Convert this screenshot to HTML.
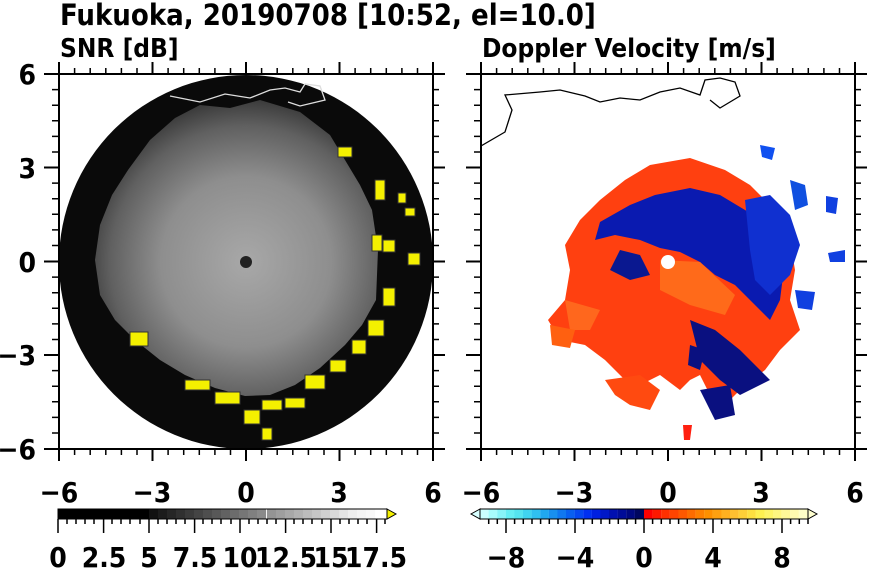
<!DOCTYPE html>
<html><head><meta charset="utf-8"><style>
body{margin:0;background:#fff;}
svg{display:block;font-family:"DejaVu Sans Condensed","DejaVu Sans","Liberation Sans",sans-serif;font-weight:bold;font-stretch:condensed;}
</style></head><body>
<svg width="870" height="570" viewBox="0 0 870 570" xmlns="http://www.w3.org/2000/svg">
<defs>
<radialGradient id="gg" cx="246" cy="262" r="170" gradientUnits="userSpaceOnUse">
<stop offset="0" stop-color="#a8a8a8"/><stop offset="0.5" stop-color="#8e8e8e"/><stop offset="0.8" stop-color="#606060"/><stop offset="1" stop-color="#303030"/>
</radialGradient>
<clipPath id="c1"><rect x="59" y="74" width="374" height="375"/></clipPath>
<clipPath id="c2"><rect x="481" y="74" width="374" height="375"/></clipPath>
</defs>
<text x="60" y="25" font-size="29">Fukuoka, 20190708 [10:52, el=10.0]</text>
<text x="60" y="57" font-size="26">SNR [dB]</text>
<text x="482" y="57" font-size="26">Doppler Velocity [m/s]</text>

<g clip-path="url(#c1)">
<circle cx="246" cy="262" r="187" fill="#0a0a0a"/>
<path d="M175,118 L200,105 230,108 260,100 300,112 330,135 345,160 360,185 372,210 378,250 376,300 362,325 345,345 320,368 295,385 270,395 245,396 215,388 185,375 160,360 135,340 115,320 100,295 95,260 100,225 112,195 128,170 150,140 Z" fill="url(#gg)"/>
<circle cx="246" cy="262" r="6" fill="#222"/>
<g fill="#f4f000" stroke="#333" stroke-width="1">
<rect x="338" y="147" width="14" height="10"/><rect x="375" y="180" width="10" height="20"/><rect x="398" y="193" width="8" height="10"/><rect x="405" y="208" width="10" height="8"/>
<rect x="372" y="235" width="10" height="16"/><rect x="383" y="240" width="12" height="12"/><rect x="408" y="253" width="12" height="12"/>
<rect x="383" y="288" width="12" height="18"/><rect x="368" y="320" width="16" height="16"/><rect x="352" y="340" width="14" height="14"/>
<rect x="330" y="360" width="16" height="12"/><rect x="305" y="375" width="20" height="14"/><rect x="285" y="398" width="20" height="10"/>
<rect x="262" y="400" width="20" height="10"/><rect x="244" y="410" width="16" height="14"/><rect x="262" y="428" width="10" height="12"/>
<rect x="215" y="392" width="25" height="12"/><rect x="185" y="380" width="25" height="10"/><rect x="130" y="332" width="18" height="14"/>
</g>
<path d="M170,96 L200,102 225,94 250,98 270,90 285,88 300,92 305,84 320,86 325,100 300,106 288,102" fill="none" stroke="#ddd" stroke-width="1.3"/>
</g>
<rect x="59" y="74" width="374" height="375" fill="none" stroke="#000" stroke-width="2"/>

<g clip-path="url(#c2)">
<path d="M481,146 L505,132 512,110 505,95 540,92 560,90 585,96 600,102 620,98 640,100 660,92 680,88 700,95 705,80 720,78 735,82 740,96 720,108 710,100" fill="none" stroke="#000" stroke-width="1.3"/>
<path d="M650,165 L690,158 725,170 750,185 775,210 790,240 795,270 790,300 800,330 780,350 765,370 745,385 730,400 710,395 700,375 690,380 680,390 660,375 640,385 625,380 605,360 585,345 560,340 548,320 565,300 570,270 565,245 580,220 600,200 625,180 Z" fill="#ff4010"/>
<path d="M630,205 L655,195 690,188 720,195 745,210 770,225 785,260 780,300 770,320 750,300 735,285 715,275 700,262 680,252 660,248 640,240 615,235 595,240 600,222 Z" fill="#0a1ab0"/>
<path d="M745,200 L770,195 790,215 800,245 790,275 770,295 755,280 750,250 Z" fill="#1030d0"/>
<path d="M620,250 L640,255 650,275 630,280 610,270 Z" fill="#0a1890"/>
<path d="M690,320 L715,330 740,350 760,370 770,380 740,395 720,380 700,360 Z" fill="#0a1080"/>
<path d="M690,345 L705,350 700,370 688,365 Z" fill="#0a1080"/>
<path d="M660,260 L700,262 735,295 725,315 690,305 660,290 Z" fill="#ff6a1a"/>
<path d="M565,300 L600,310 590,330 570,330 Z" fill="#ff7020" opacity="0.8"/>
<path d="M605,380 L640,375 660,390 650,410 630,405 615,395 Z" fill="#ff4a10"/>
<path d="M700,390 L730,385 735,415 715,420 Z" fill="#0a1080"/>
<path d="M550,325 L575,330 570,348 552,345 Z" fill="#ff6010"/>
<path d="M683,425 L692,425 690,440 684,440 Z" fill="#ff2010"/>
<path d="M760,145 L775,148 772,160 762,157 Z" fill="#1050f0"/>
<path d="M790,180 L805,185 808,205 795,210 Z" fill="#1050e0"/>
<path d="M826,196 L838,198 836,214 826,212 Z" fill="#1040e0"/>
<path d="M828,253 L845,250 845,262 830,262 Z" fill="#1040e0"/>
<path d="M795,290 L815,292 812,310 798,308 Z" fill="#1040e0"/>
<circle cx="668" cy="262" r="7" fill="#fff"/>
</g>
<rect x="481" y="74" width="374" height="375" fill="none" stroke="#000" stroke-width="2"/>

<g stroke="#000" stroke-width="2">
<path d="M59,74v-12M152.5,74v-12M246,74v-12M339.5,74v-12M433,74v-12 M59,449v12M152.5,449v12M246,449v12M339.5,449v12M433,449v12 M59,74h-15M59,167.5h-15M59,261.5h-15M59,355h-15M59,449h-15 M433,74h12M433,167.5h12M433,261.5h12M433,355h12M433,449h12"/>
<path d="M481,74v-12M574.5,74v-12M668,74v-12M761.5,74v-12M855,74v-12 M481,449v12M574.5,449v12M668,449v12M761.5,449v12M855,449v12 M481,74h-15M481,167.5h-15M481,261.5h-15M481,355h-15M481,449h-15 M855,74h12M855,167.5h12M855,261.5h12M855,355h12M855,449h12"/>
<path id="mt" stroke-width="1.5" d="M74.6,74v-6M90.2,74v-6M105.8,74v-6M121.4,74v-6M137,74v-6M168.1,74v-6M183.7,74v-6M199.3,74v-6M214.9,74v-6M230.5,74v-6M261.6,74v-6M277.2,74v-6M292.8,74v-6M308.4,74v-6M324,74v-6M355.1,74v-6M370.7,74v-6M386.3,74v-6M401.9,74v-6M417.5,74v-6
M74.6,449v6M90.2,449v6M105.8,449v6M121.4,449v6M137,449v6M168.1,449v6M183.7,449v6M199.3,449v6M214.9,449v6M230.5,449v6M261.6,449v6M277.2,449v6M292.8,449v6M308.4,449v6M324,449v6M355.1,449v6M370.7,449v6M386.3,449v6M401.9,449v6M417.5,449v6
M59,89.6h-7M59,105.2h-7M59,120.8h-7M59,136.4h-7M59,152h-7M59,183.1h-7M59,198.7h-7M59,214.3h-7M59,229.9h-7M59,245.5h-7M59,277.1h-7M59,292.7h-7M59,308.3h-7M59,323.9h-7M59,339.5h-7M59,370.6h-7M59,386.2h-7M59,401.8h-7M59,417.4h-7M59,433h-7
M433,89.6h6M433,105.2h6M433,120.8h6M433,136.4h6M433,152h6M433,183.1h6M433,198.7h6M433,214.3h6M433,229.9h6M433,245.5h6M433,277.1h6M433,292.7h6M433,308.3h6M433,323.9h6M433,339.5h6M433,370.6h6M433,386.2h6M433,401.8h6M433,417.4h6M433,433h6"/>
<use href="#mt" transform="translate(422,0)"/>
</g>

<g font-size="28" text-anchor="middle">
<text x="59" y="502">−6</text><text x="152" y="502">−3</text><text x="246" y="502">0</text><text x="339" y="502">3</text><text x="433" y="502">6</text>
<text x="481" y="502">−6</text><text x="574" y="502">−3</text><text x="668" y="502">0</text><text x="761" y="502">3</text><text x="855" y="502">6</text>
</g>
<g font-size="28" text-anchor="end">
<text x="36" y="84">6</text><text x="36" y="178">3</text><text x="36" y="272">0</text><text x="36" y="365">−3</text><text x="36" y="459">−6</text>
</g>

<g>
<rect x="58" y="509" width="91" height="10" fill="#000"/>
<rect x="149" y="509" width="9.1" height="10" fill="#111"/><rect x="158" y="509" width="9.1" height="10" fill="#1c1c1c"/><rect x="167" y="509" width="9.1" height="10" fill="#262626"/><rect x="176" y="509" width="9.1" height="10" fill="#303030"/><rect x="185" y="509" width="9.1" height="10" fill="#3a3a3a"/><rect x="194" y="509" width="9.1" height="10" fill="#444"/><rect x="203" y="509" width="9.1" height="10" fill="#4e4e4e"/><rect x="212" y="509" width="9.1" height="10" fill="#585858"/><rect x="221" y="509" width="9.1" height="10" fill="#626262"/><rect x="230" y="509" width="9.1" height="10" fill="#6c6c6c"/><rect x="239" y="509" width="9.1" height="10" fill="#767676"/><rect x="248" y="509" width="9.1" height="10" fill="#808080"/><rect x="257" y="509" width="9.1" height="10" fill="#8a8a8a"/><rect x="267" y="509" width="9.1" height="10" fill="#949494"/><rect x="276" y="509" width="9.1" height="10" fill="#9e9e9e"/><rect x="285" y="509" width="9.1" height="10" fill="#a8a8a8"/><rect x="294" y="509" width="9.1" height="10" fill="#b2b2b2"/><rect x="303" y="509" width="9.1" height="10" fill="#bcbcbc"/><rect x="312" y="509" width="9.1" height="10" fill="#c6c6c6"/><rect x="321" y="509" width="9.1" height="10" fill="#d0d0d0"/><rect x="330" y="509" width="9.1" height="10" fill="#dadada"/><rect x="339" y="509" width="9.1" height="10" fill="#e4e4e4"/><rect x="348" y="509" width="9.1" height="10" fill="#eeeeee"/><rect x="357" y="509" width="9.1" height="10" fill="#f4f4f4"/><rect x="366" y="509" width="9.1" height="10" fill="#f8f8f8"/><rect x="376" y="509" width="11" height="10" fill="#fff"/>
<path d="M387,509 L396,514 387,519Z" fill="#f4f000" stroke="#000"/>
<rect x="58" y="509" width="329" height="10" fill="none" stroke="#000"/>
<path stroke="#000" stroke-width="1.5" d="M58,519v14M103.6,519v14M149,519v14M194.6,519v14M240,519v14M285.6,519v14M331,519v14M376.6,519v14 M67,519v5M76,519v5M85,519v5M94,519v5M112,519v5M121,519v5M130,519v5M140,519v5M158,519v5M167,519v5M176,519v5M185,519v5M203,519v5M212,519v5M221,519v5M231,519v5M249,519v5M258,519v5M267,519v5M276,519v5M294,519v5M303,519v5M312,519v5M322,519v5M340,519v5M349,519v5M358,519v5M367,519v5M385,519v5"/>
<g font-size="28" text-anchor="middle"><text x="58" y="567">0</text><text x="104" y="567">2.5</text><text x="149" y="567">5</text><text x="195" y="567">7.5</text><text x="240" y="567">10</text><text x="286" y="567">12.5</text><text x="331" y="567">15</text><text x="376" y="567">17.5</text></g>
</g>

<g>
<path d="M480,509 L471,514 480,519Z" fill="#d8ffff" stroke="#000"/>
<path d="M808,509 L817,514 808,519Z" fill="#ffffd0" stroke="#000"/>
<g>
<rect x="480" y="509" width="8.7" height="10" fill="#ccffff"/><rect x="488.6" y="509" width="8.7" height="10" fill="#a8fcfc"/><rect x="497.2" y="509" width="8.7" height="10" fill="#88f4f8"/><rect x="505.8" y="509" width="8.7" height="10" fill="#66eef4"/><rect x="514.4" y="509" width="8.7" height="10" fill="#55e4f0"/><rect x="523" y="509" width="8.7" height="10" fill="#40d4f0"/><rect x="531.6" y="509" width="8.7" height="10" fill="#30c0f0"/><rect x="540.2" y="509" width="8.7" height="10" fill="#20a8f0"/><rect x="548.8" y="509" width="8.7" height="10" fill="#1890f0"/><rect x="557.4" y="509" width="8.7" height="10" fill="#1078f0"/><rect x="566" y="509" width="8.7" height="10" fill="#0860f0"/><rect x="574.6" y="509" width="8.7" height="10" fill="#0448f0"/><rect x="583.2" y="509" width="8.7" height="10" fill="#0030f0"/><rect x="591.8" y="509" width="8.7" height="10" fill="#0020e0"/><rect x="600.4" y="509" width="8.7" height="10" fill="#0018c8"/><rect x="609" y="509" width="8.7" height="10" fill="#0010b0"/><rect x="617.6" y="509" width="8.7" height="10" fill="#000c98"/><rect x="626.2" y="509" width="8.7" height="10" fill="#000880"/><rect x="634.8" y="509" width="9.2" height="10" fill="#000660"/>
<rect x="644" y="509" width="8.7" height="10" fill="#ff0000"/><rect x="652.6" y="509" width="8.7" height="10" fill="#ff1800"/><rect x="661.2" y="509" width="8.7" height="10" fill="#ff3000"/><rect x="669.8" y="509" width="8.7" height="10" fill="#ff4400"/><rect x="678.4" y="509" width="8.7" height="10" fill="#ff5800"/><rect x="687" y="509" width="8.7" height="10" fill="#ff6c00"/><rect x="695.6" y="509" width="8.7" height="10" fill="#ff8000"/><rect x="704.2" y="509" width="8.7" height="10" fill="#ff9000"/><rect x="712.8" y="509" width="8.7" height="10" fill="#ffa010"/><rect x="721.4" y="509" width="8.7" height="10" fill="#ffb020"/><rect x="730" y="509" width="8.7" height="10" fill="#ffc030"/><rect x="738.6" y="509" width="8.7" height="10" fill="#ffd038"/><rect x="747.2" y="509" width="8.7" height="10" fill="#ffe040"/><rect x="755.8" y="509" width="8.7" height="10" fill="#fff050"/><rect x="764.4" y="509" width="8.7" height="10" fill="#fff468"/><rect x="773" y="509" width="8.7" height="10" fill="#fff680"/><rect x="781.6" y="509" width="8.7" height="10" fill="#fff898"/><rect x="790.2" y="509" width="8.7" height="10" fill="#fffab0"/><rect x="798.8" y="509" width="9.2" height="10" fill="#ffffc8"/>
</g>
<rect x="480" y="509" width="328" height="10" fill="none" stroke="#000"/>
<path stroke="#000" stroke-width="1.5" d="M506,519v14M575,519v14M644,519v14M713,519v14M782,519v14 M488.7,519v5M497.3,519v5M514.6,519v5M523.3,519v5M532,519v5M540.6,519v5M549.3,519v5M558,519v5M566.6,519v5M583.6,519v5M592.3,519v5M601,519v5M609.6,519v5M618.3,519v5M627,519v5M635.6,519v5M652.6,519v5M661.3,519v5M670,519v5M678.6,519v5M687.3,519v5M696,519v5M704.6,519v5M721.6,519v5M730.3,519v5M739,519v5M747.6,519v5M756.3,519v5M765,519v5M773.6,519v5M790.6,519v5M799.3,519v5M808,519v5"/>
<g font-size="28" text-anchor="middle"><text x="506" y="567">−8</text><text x="575" y="567">−4</text><text x="644" y="567">0</text><text x="713" y="567">4</text><text x="782" y="567">8</text></g>
</g>
</svg>
</body></html>
